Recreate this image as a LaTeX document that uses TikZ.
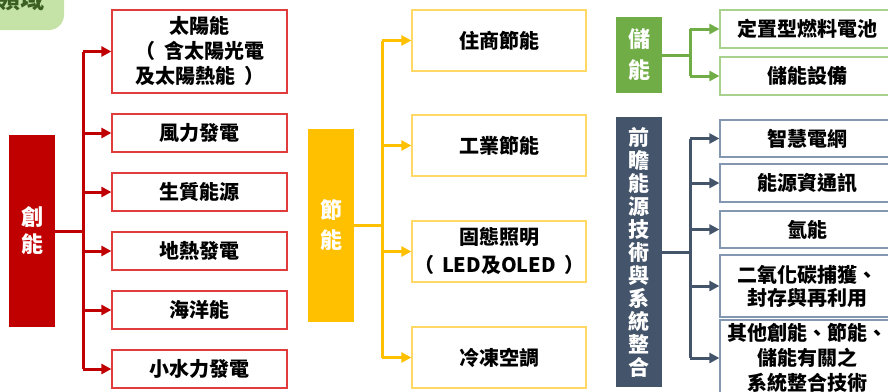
\documentclass[tikz,border=0pt]{standalone}
\usepackage{fontspec}
\setmainfont{Noto Sans CJK TC}
\usetikzlibrary{arrows.meta}
\definecolor{cnred}{HTML}{C00000}
\definecolor{cnredln}{HTML}{E03C3C}
\definecolor{jnyel}{HTML}{FFC000}
\definecolor{jnyelln}{HTML}{FFD866}
\definecolor{ccgrn}{HTML}{70AD47}
\definecolor{ccgrnln}{HTML}{A9D18E}
\definecolor{qznavy}{HTML}{44546A}
\definecolor{qznavyln}{HTML}{8497B0}
\definecolor{tagfill}{HTML}{C5E3A6}
\definecolor{tagtext}{HTML}{3B5E23}
\begin{document}
\begin{tikzpicture}[x=1pt,y=-1pt, % 1pt per pixel, y downwards
    col/.style={minimum width=46pt, inner sep=0pt, text=white, align=center,
      font=\bfseries\fontsize{22}{27}\selectfont},
    item/.style={draw, fill=white, line width=1.2pt, minimum width=175pt,
      inner sep=0pt, align=center, text=black,
      font=\bfseries\fontsize{20}{25}\selectfont},
    link/.style={line width=3pt, -{Triangle[length=10pt,width=10pt]}},
    trunk/.style={line width=3pt}]
  \useasboundingbox (0,0) rectangle (888,391);

  % Tag in the corner
  \fill[tagfill, rounded corners=15pt] (-40,-40) rectangle (64,30);
  \node[anchor=east, text=tagtext, font=\bfseries\fontsize{24}{24}\selectfont,
    inner sep=0pt] (tag) at (45,-1) {領域};

  % Columns
  \node[col, fill=cnred, minimum height=192pt] (cn) at (32,231) {創\\能};
  \node[col, fill=jnyel, minimum height=193pt,
    font=\bfseries\fontsize{22}{30}\selectfont] (jn) at (331,225.5) {節\\能};
  \node[col, fill=ccgrn, minimum height=76pt,
    font=\bfseries\fontsize{22}{31}\selectfont] (cc) at (639,55) {儲\\能};
  \node[col, fill=qznavy, minimum height=270pt,
    font=\bfseries\fontsize{21}{23}\selectfont] (qz) at (639,252)
    {前\\瞻\\能\\源\\技\\術\\與\\系\\統\\整\\合};

  % Items of the red column
  \node[item, draw=cnredln, minimum height=83pt] (r1) at (199.5,51.5)
    {太陽能\\（\hspace{9pt}含太陽光電\\及太陽熱能\hspace{9pt}）};
  \node[item, draw=cnredln, minimum height=38pt] (r2) at (199.5,133) {風力發電};
  \node[item, draw=cnredln, minimum height=38pt] (r3) at (199.5,192) {生質能源};
  \node[item, draw=cnredln, minimum height=38pt] (r4) at (199.5,251) {地熱發電};
  \node[item, draw=cnredln, minimum height=38pt] (r5) at (199.5,310) {海洋能};
  \node[item, draw=cnredln, minimum height=38pt] (r6) at (199.5,369) {小水力發電};

  % Items of the yellow column
  \node[item, draw=jnyelln, minimum width=174pt, minimum height=61pt] (y1)
    at (499,40.5) {住商節能};
  \node[item, draw=jnyelln, minimum width=174pt, minimum height=61pt] (y2)
    at (499,145.5) {工業節能};
  \node[item, draw=jnyelln, minimum width=174pt, minimum height=61pt,
    font=\bfseries\fontsize{20}{28}\selectfont] (y3)
    at (499,251.5) {固態照明\\（\hspace{8pt}LED及OLED\hspace{8pt}）};
  \node[item, draw=jnyelln, minimum width=174pt, minimum height=61pt] (y4)
    at (499,357.5) {冷凍空調};

  % Items of the green column
  \node[item, draw=ccgrnln, minimum width=174pt, minimum height=38pt] (g1)
    at (807,29) {定置型燃料電池};
  \node[item, draw=ccgrnln, minimum width=174pt, minimum height=38pt] (g2)
    at (807,76) {儲能設備};

  % Items of the navy column
  \node[item, draw=qznavyln, minimum width=174pt, minimum height=37pt] (n1)
    at (807,138.5) {智慧電網};
  \node[item, draw=qznavyln, minimum width=174pt, minimum height=38pt] (n2)
    at (807,183) {能源資通訊};
  \node[item, draw=qznavyln, minimum width=174pt, minimum height=37pt] (n3)
    at (807,229.5) {氫能};
  \node[item, draw=qznavyln, minimum width=174pt, minimum height=62pt,
    font=\bfseries\fontsize{20}{23}\selectfont] (n4)
    at (807,286) {二氧化碳捕獲、\\封存與再利用};
  \node[item, draw=qznavyln, minimum width=174pt, minimum height=76pt] (n5)
    at (807,358) {其他創能、節能、\\儲能有關之\\系統整合技術};

  % Trunk points
  \coordinate (cnT) at (83,0);
  \coordinate (jnT) at (382,0);
  \coordinate (ccT) at (690,0);
  \coordinate (qzT) at (690,0);

  % Red connectors
  \draw[trunk, cnred] (cn.east) -- (cnT |- cn.east);
  \draw[trunk, cnred] (cnT |- r1) -- (cnT |- r6);
  \draw[link, cnred] (cnT |- r1) -- (r1.west);
  \draw[link, cnred] (cnT |- r2) -- (r2.west);
  \draw[link, cnred] (cnT |- r3) -- (r3.west);
  \draw[link, cnred] (cnT |- r4) -- (r4.west);
  \draw[link, cnred] (cnT |- r5) -- (r5.west);
  \draw[link, cnred] (cnT |- r6) -- (r6.west);

  % Yellow connectors
  \draw[trunk, jnyel] (jn.east) -- (jnT |- jn.east);
  \draw[trunk, jnyel] (jnT |- y1) -- (jnT |- y4);
  \draw[link, jnyel] (jnT |- y1) -- (y1.west);
  \draw[link, jnyel] (jnT |- y2) -- (y2.west);
  \draw[link, jnyel] (jnT |- y3) -- (y3.west);
  \draw[link, jnyel] (jnT |- y4) -- (y4.west);

  % Green connectors
  \draw[trunk, ccgrn] (cc.east) -- (ccT |- cc.east);
  \draw[trunk, ccgrn] (ccT |- g1) -- (ccT |- g2);
  \draw[link, ccgrn] (ccT |- g1) -- (g1.west);
  \draw[link, ccgrn] (ccT |- g2) -- (g2.west);

  % Navy connectors
  \draw[trunk, qznavy] (qz.east) -- (qzT |- qz.east);
  \draw[trunk, qznavy] (qzT |- n1) -- (qzT |- n5);
  \draw[link, qznavy] (qzT |- n1) -- (n1.west);
  \draw[link, qznavy] (qzT |- n2) -- (n2.west);
  \draw[link, qznavy] (qzT |- n3) -- (n3.west);
  \draw[link, qznavy] (qzT |- n4) -- (n4.west);
  \draw[link, qznavy] (qzT |- n5) -- (n5.west);
\end{tikzpicture}
\end{document}
